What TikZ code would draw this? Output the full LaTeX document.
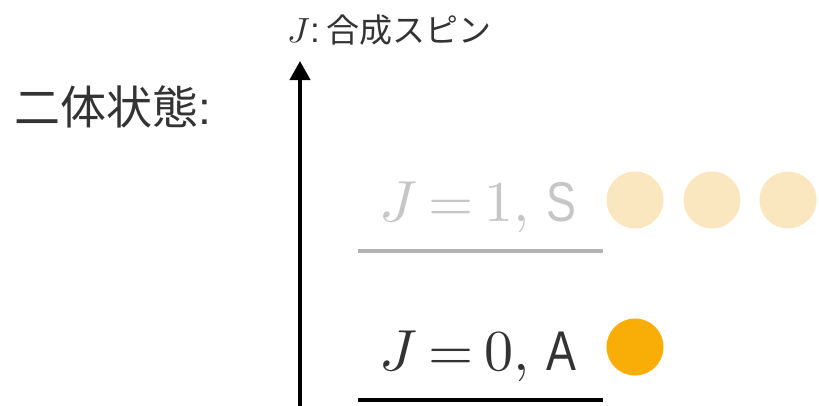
\documentclass[tikz,border=0pt]{standalone}
\usepackage{fontspec}
\usepackage{unicode-math}
\setmainfont{Liberation Sans}
\setmathfont{Latin Modern Math}
\newfontfamily\cjk{Noto Sans CJK JP}
\newfontfamily\narrowsans[FakeStretch=0.8]{Liberation Sans}
\usetikzlibrary{arrows.meta}
\definecolor{txt}{HTML}{333333}
\definecolor{faint}{HTML}{C6C6C6}
\definecolor{faintline}{HTML}{B3B3B3}
\definecolor{orangeA}{HTML}{F9AE07}
\definecolor{orangeL}{HTML}{FAE6BF}
\newcommand{\levelfont}{\fontsize{58}{66}\selectfont\thickmuskip=3.5mu}
\begin{document}
\begin{tikzpicture}[x=1pt,y=-1pt,
  lbl/.style={anchor=base west, inner sep=0pt, outer sep=0pt},
  lvl/.style={line width=4pt},
  dot/.style={circle, inner sep=0pt, minimum size=57pt}]
\useasboundingbox (0,0) rectangle (819,405);
% axis
\coordinate (axb) at (300,410);
\coordinate (axt) at (300,61);
\draw[-{Triangle[width=20pt,length=19pt]}, line width=4pt, black] (axb) -- (axt);
% title
\node[lbl, text=txt, font=\fontsize{35}{40}\selectfont] (title) at (287,42) {$J$:\hspace{7pt}{\fontsize{33}{38}\selectfont\cjk 合成スピン}};
% left label
\node[lbl, text=txt, font=\fontsize{46}{52}\selectfont] (two) at (14,124) {{\cjk 二体状態}:};
% J=1 level
\node[lbl, text=faint, font=\levelfont] (l1) at (379,221) {$J=1,$\hspace{16pt}{\fontsize{56}{66}\selectfont\narrowsans S}};
\coordinate (u1a) at (358,251);
\coordinate (u1b) at (603,251);
\draw[lvl, faintline] (u1a) -- (u1b);
\node[dot, fill=orangeL] (c1a) at (635,200) {};
\node[dot, fill=orangeL] (c1b) at (712,200) {};
\node[dot, fill=orangeL] (c1c) at (788,200) {};
% J=0 level
\node[lbl, text=txt, font=\levelfont] (l0) at (379,370) {$J=0,$\hspace{16pt}{\fontsize{56}{66}\selectfont\narrowsans A}};
\coordinate (u0a) at (358,400);
\coordinate (u0b) at (603,400);
\draw[lvl, black] (u0a) -- (u0b);
\node[dot, fill=orangeA] (c0) at (635,347) {};
\end{tikzpicture}
\end{document}
